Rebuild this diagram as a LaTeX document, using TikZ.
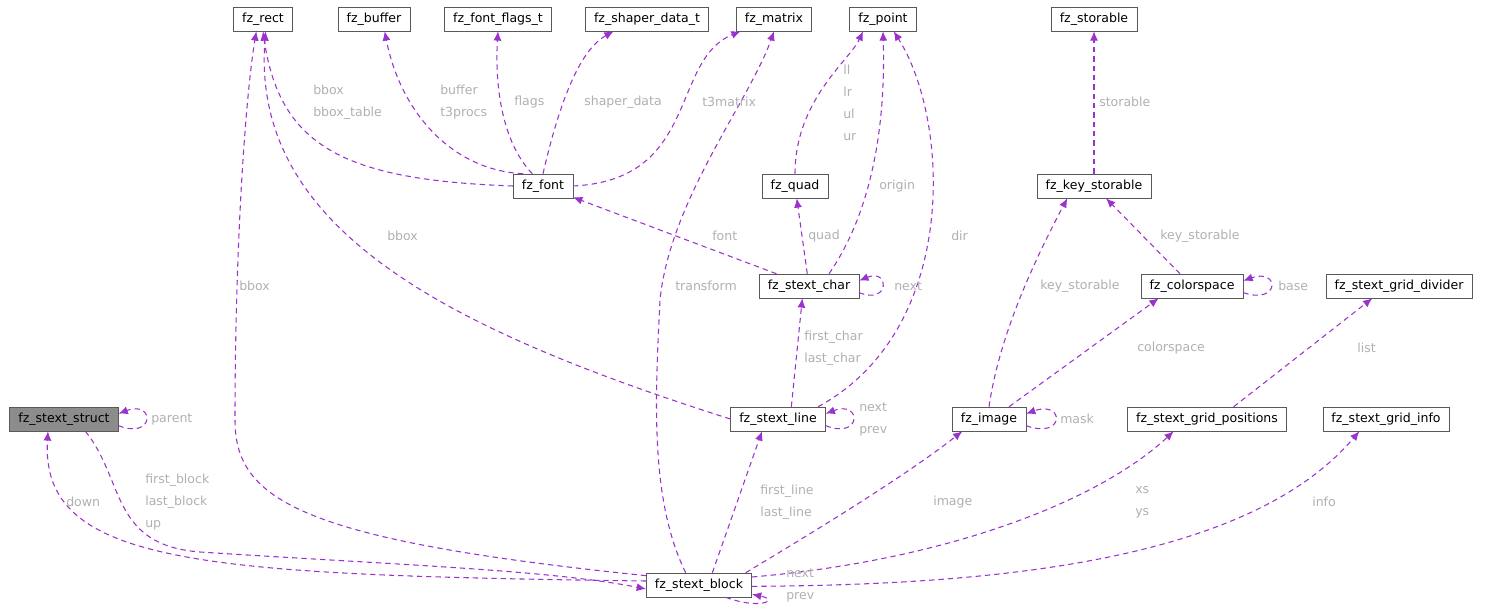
\documentclass[tikz,border=0pt]{standalone}
\usepackage{fontspec}
\setmainfont{DejaVu Sans}
\usetikzlibrary{arrows.meta}
\definecolor{ec}{HTML}{9A32CD}
\definecolor{lc}{HTML}{B0B0B0}
\begin{document}
\begin{tikzpicture}[x=0.75pt,y=-0.75pt,
 box/.style={draw=black!65,fill=white,minimum height=18pt,inner xsep=6.5pt,inner ysep=2.5pt,font=\fontsize{9.4}{11}\selectfont},
 e/.style={draw=ec,dash pattern=on 4pt off 3pt,line width=0.8pt,-{Latex[length=7pt,width=6pt]}},
 lb/.style={text=lc,font=\fontsize{9.4}{16.5}\selectfont,align=left,anchor=west,inner sep=0pt}]
\useasboundingbox (0,0) rectangle (1499,614);
\node[box] (rect) at (263,19) {fz\_rect};
\node[box] (buffer) at (374,19) {fz\_buffer};
\node[box] (flags) at (498,19) {fz\_font\_flags\_t};
\node[box] (shaper) at (647,19) {fz\_shaper\_data\_t};
\node[box] (matrix) at (774,19) {fz\_matrix};
\node[box] (point) at (883,19) {fz\_point};
\node[box] (storable) at (1094,19) {fz\_storable};
\node[box] (font) at (543,186) {fz\_font};
\node[box] (quad) at (795,186) {fz\_quad};
\node[box] (key) at (1094,186) {fz\_key\_storable};
\node[box] (char) at (809,286) {fz\_stext\_char};
\node[box] (cs) at (1192,286) {fz\_colorspace};
\node[box] (div) at (1399,286) {fz\_stext\_grid\_divider};
\node[box,fill=black!45] (struct) at (64,419) {fz\_stext\_struct};
\node[box] (line) at (778,419) {fz\_stext\_line};
\node[box] (image) at (989,419) {fz\_image};
\node[box] (gpos) at (1207,419) {fz\_stext\_grid\_positions};
\node[box] (ginfo) at (1386,419) {fz\_stext\_grid\_info};
\node[box] (block) at (699,585) {fz\_stext\_block};

\draw[e] (font.west) .. controls (350,180) and (280,150) .. (rect.south);
\draw[e] ([xshift=-15pt]font.north) .. controls (450,170) and (400,110) .. ([xshift=8pt]buffer.south);
\draw[e] ([xshift=-8pt]font.north) .. controls (500,140) and (495,80) .. (flags.south);
\draw[e] (font.north) .. controls (560,100) and (580,50) .. ([xshift=-25pt]shaper.south);
\draw[e] (font.east) .. controls (700,180) and (670,60) .. ([xshift=-25pt]matrix.south);
\draw[e] (quad.north) .. controls (795,100) and (850,60) .. ([xshift=-15pt]point.south);
\draw[e] (key) -- (storable);
\draw[e] (char) -- (font);
\draw[e] (char) -- (quad);
\draw[e] ([xshift=15pt]char.north) .. controls (880,200) and (885,100) .. (point.south);
\draw[e] ([yshift=-5pt]char.east) .. controls (890,305) and (890,268) .. ([yshift=4pt]char.east);
\draw[e] (line.west) .. controls (450,330) and (250,230) .. ([xshift=2pt]rect.south);
\draw[e] ([xshift=10pt]line.north) -- ([xshift=-5pt]char.south);
\draw[e] ([xshift=30pt]line.north) .. controls (960,330) and (950,120) .. ([xshift=8pt]point.south);
\draw[e] ([yshift=-5pt]line.east) .. controls (862,440) and (862,400) .. ([yshift=4pt]line.east);
\draw[e] (cs) -- (key);
\draw[e] ([yshift=-5pt]cs.east) .. controls (1280,305) and (1280,268) .. ([yshift=4pt]cs.east);
\draw[e] (image.north) .. controls (1000,330) and (1040,250) .. ([xshift=-20pt]key.south);
\draw[e] ([xshift=15pt]image.north) -- ([xshift=-25pt]cs.south);
\draw[e] ([yshift=-5pt]image.east) .. controls (1065,440) and (1065,400) .. ([yshift=4pt]image.east);
\draw[e] ([xshift=20pt]gpos.north) -- ([xshift=-20pt]div.south);
\draw[e] ([yshift=-5pt]struct.east) .. controls (155,440) and (155,400) .. ([yshift=4pt]struct.east);
\draw[e] ([yshift=3pt]block.west) .. controls (200,575) and (40,565) .. ([xshift=-12pt]struct.south);
\draw[e] ([xshift=16pt]struct.south) .. controls (125,480) and (110,545) .. (200,552) .. controls (400,565) and (550,570) .. ([yshift=-3pt]block.west);
\draw[e] ([yshift=7pt]block.west) .. controls (300,540) and (235,500) .. (235,420) .. controls (235,250) and (245,100) .. ([xshift=-5pt]rect.south);
\draw[e] ([xshift=-10pt]block.north) .. controls (650,500) and (655,400) .. (660,300) .. controls (670,200) and (750,100) .. (matrix.south);
\draw[e] ([xshift=10pt]block.north) -- ([xshift=-12pt]line.south);
\draw[e] ([xshift=35pt]block.north) .. controls (800,540) and (900,480) .. ([xshift=-20pt]image.south);
\draw[e] ([yshift=6pt]block.east) .. controls (950,560) and (1100,500) .. ([xshift=-25pt]gpos.south);
\draw[e] ([yshift=-1pt]block.east) .. controls (1000,585) and (1250,560) .. ([xshift=-20pt]ginfo.south);
\draw[e] ([xshift=20pt]block.south) .. controls (760,610) and (780,600) .. ([yshift=-7pt]block.east);
\node[lb] at (313,102) {bbox\\bbox\_table};
\node[lb] at (440,102) {buffer\\t3procs};
\node[lb] at (514,102) {flags};
\node[lb] at (584,102) {shaper\_data};
\node[lb] at (702,102) {t3matrix};
\node[lb] at (843,103) {ll\\lr\\ul\\ur};
\node[lb] at (1099,102) {storable};
\node[lb] at (712,236) {font};
\node[lb] at (808,236) {quad};
\node[lb] at (879,186) {origin};
\node[lb] at (894,286) {next};
\node[lb] at (387,236) {bbox};
\node[lb] at (804,348) {first\_char\\last\_char};
\node[lb] at (951,236) {dir};
\node[lb] at (859,419) {next\\prev};
\node[lb] at (1160,236) {key\_storable};
\node[lb] at (1278,286) {base};
\node[lb] at (1040,286) {key\_storable};
\node[lb] at (1137,348) {colorspace};
\node[lb] at (1060,419) {mask};
\node[lb] at (1357,348) {list};
\node[lb] at (151,419) {parent};
\node[lb] at (66,502) {down};
\node[lb] at (145,502) {first\_block\\last\_block\\up};
\node[lb] at (239,286) {bbox};
\node[lb] at (675,286) {transform};
\node[lb] at (760,502) {first\_line\\last\_line};
\node[lb] at (933,502) {image};
\node[lb] at (1135,502) {xs\\ys};
\node[lb] at (1312,502) {info};
\node[lb] at (786,585) {next\\prev};
\end{tikzpicture}
\end{document}
